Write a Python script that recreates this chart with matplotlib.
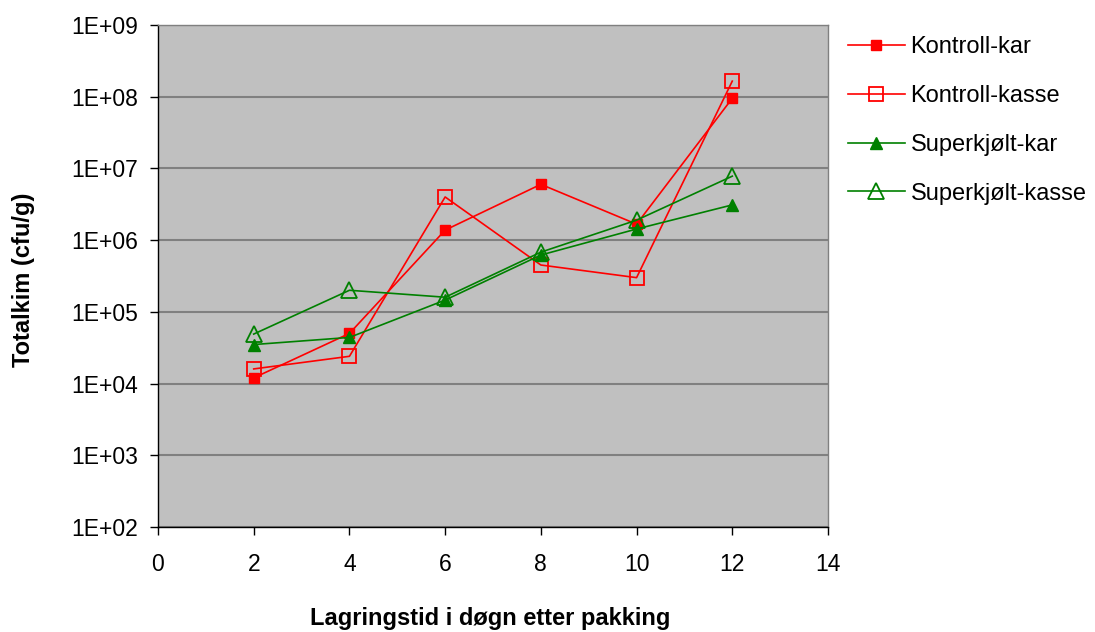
import matplotlib
matplotlib.use("Agg")
import matplotlib.pyplot as plt
from matplotlib.ticker import FixedLocator, NullLocator

days = [2, 4, 6, 8, 10, 12]
kontroll_kar = [1.2e4, 5.0e4, 1.38e6, 6.0e6, 1.67e6, 9.5e7]
kontroll_kasse = [1.6e4, 2.4e4, 4.0e6, 4.5e5, 3.0e5, 1.65e8]
superkjolt_kar = [3.5e4, 4.4e4, 1.46e5, 6.2e5, 1.43e6, 3.1e6]
superkjolt_kasse = [4.9e4, 2.0e5, 1.6e5, 6.8e5, 1.9e6, 7.8e6]

series_labels = ["Kontroll-kar", "Kontroll-kasse", "Superkjølt-kar", "Superkjølt-kasse"]
x_ticks = [0, 2, 4, 6, 8, 10, 12, 14]
y_ticks = [1e2, 1e3, 1e4, 1e5, 1e6, 1e7, 1e8, 1e9]
y_tick_labels = ["1E+02", "1E+03", "1E+04", "1E+05", "1E+06", "1E+07", "1E+08", "1E+09"]

plt.rcParams['font.family'] = ['Liberation Sans', 'DejaVu Sans']

fig = plt.figure(figsize=(10.95, 6.32), dpi=100)
ax = fig.add_axes([158/1095, 1 - 527/632, (828-158)/1095, (527-25)/632])
ax.set_facecolor('#C0C0C0')

red = '#FF0000'
green = '#008000'
lw = 1.2
ax.plot(days, kontroll_kar, color=red, lw=lw, marker='s', ms=7.5, mfc=red, mec=red, label=series_labels[0], zorder=3)
ax.plot(days, kontroll_kasse, color=red, lw=lw, marker='s', ms=10.5, mfc='none', mec=red, mew=1.3, label=series_labels[1], zorder=3)
ax.plot(days, superkjolt_kar, color=green, lw=lw, marker='^', ms=9, mfc=green, mec=green, label=series_labels[2], zorder=3)
ax.plot(days, superkjolt_kasse, color=green, lw=lw, marker='^', ms=11.5, mfc='none', mec=green, mew=1.3, label=series_labels[3], zorder=3)

ax.set_yscale('log')
ax.set_xlim(0, 14)
ax.set_ylim(1e2, 1e9)
ax.yaxis.set_major_locator(FixedLocator(y_ticks))
ax.yaxis.set_minor_locator(NullLocator())
ax.set_yticklabels(y_tick_labels)
ax.set_xticks(x_ticks)
ax.grid(axis='y', color='#808080', lw=1.5)
ax.set_axisbelow(True)

for s in ['top', 'right']:
    ax.spines[s].set_color('#808080')
    ax.spines[s].set_linewidth(1.0)
for s in ['left', 'bottom']:
    ax.spines[s].set_color('black')
    ax.spines[s].set_linewidth(1.0)

ax.tick_params(axis='both', labelsize=16.5, length=5.5, width=1, direction='out', color='black')
ax.tick_params(axis='x', pad=13)
ax.tick_params(axis='y', pad=9)

ax.set_xlabel('Lagringstid i døgn etter pakking', fontsize=17, fontweight='bold')
ax.xaxis.set_label_coords(0.496, -0.160)
ax.set_ylabel('Totalkim (cfu/g)', fontsize=17, fontweight='bold')
ax.yaxis.set_label_coords(-0.183, 0.492)

leg = fig.legend(loc='upper left', bbox_to_anchor=(848/1095, 1 - 36/632), frameon=False,
                 fontsize=17, handlelength=2.4, handletextpad=0.25, labelspacing=1.14,
                 borderaxespad=0, borderpad=0)

fig.savefig('out.png', dpi=100)
